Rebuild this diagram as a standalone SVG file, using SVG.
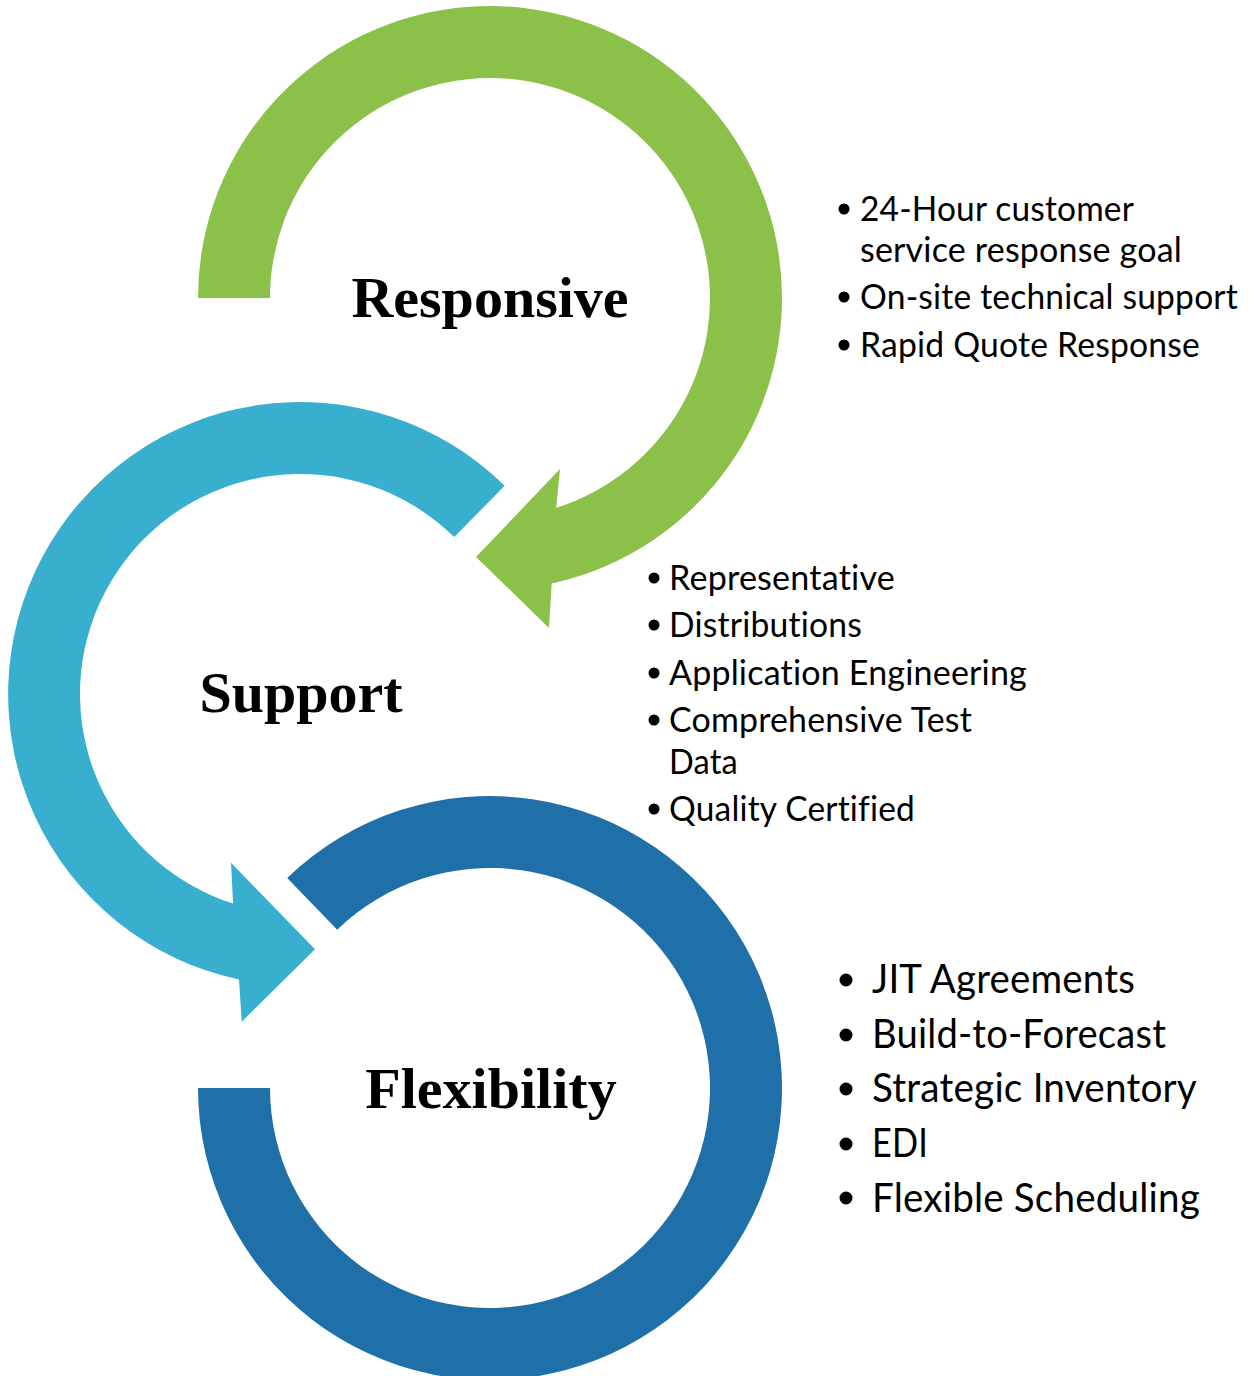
<svg xmlns="http://www.w3.org/2000/svg" width="1254" height="1376" viewBox="0 0 1254 1376">
<style>
.title{font-family:"Liberation Serif","Times New Roman",serif;font-weight:bold;font-size:58px;fill:#000;text-anchor:middle}
.item,.item3{font-family:Lato,"Liberation Sans",sans-serif;fill:#000;font-variant-ligatures:none;font-feature-settings:"liga" 0,"dlig" 0,"calt" 0,"clig" 0;letter-spacing:0.2px}
.item{font-size:35px}
.item3{font-size:41px}
.dot{fill:#000}
</style>
<rect width="1254" height="1376" fill="#fff"/>
<g id="responsive">
<path d="M198,298 A292,292 0 1 1 551.7,583.4 L549,628 L476,557 L560,469 L556.2,507.8 A220,220 0 1 0 270,298 Z" fill="#8BC148"/>
<text class="title" x="490" y="317">Responsive</text>
</g>
<g id="support">
<path d="M504.7,485.7 A292,292 0 1 0 239,979.6 L241.7,1021.7 L315,949.3 L231,862.7 L233.1,903.6 A220,220 0 1 1 454.2,537.1 Z" fill="#38AFCF"/>
<text class="title" x="301" y="712">Support</text>
</g>
<g id="flexibility">
<path d="M198,1088 A292,292 0 1 0 287.2,878 L337.2,929.7 A220,220 0 1 1 270,1088 Z" fill="#1F6FA8"/>
<text class="title" x="491" y="1108">Flexibility</text>
</g>
<g id="responsive-list">
<circle class="dot" cx="844" cy="209" r="5.5"/>
<circle class="dot" cx="844" cy="297" r="5.5"/>
<circle class="dot" cx="844" cy="345" r="5.5"/>
<text class="item" x="860" y="221" textLength="274" lengthAdjust="spacingAndGlyphs">24-Hour customer</text>
<text class="item" x="860" y="262" textLength="322" lengthAdjust="spacingAndGlyphs">service response goal</text>
<text class="item" x="860" y="309" textLength="378" lengthAdjust="spacingAndGlyphs">On-site technical support</text>
<text class="item" x="860" y="357" textLength="340" lengthAdjust="spacingAndGlyphs">Rapid Quote Response</text>
</g>
<g id="support-list">
<circle class="dot" cx="654" cy="578" r="5.5"/>
<circle class="dot" cx="654" cy="625" r="5.5"/>
<circle class="dot" cx="654" cy="673" r="5.5"/>
<circle class="dot" cx="654" cy="720" r="5.5"/>
<circle class="dot" cx="654" cy="809" r="5.5"/>
<text class="item" x="669" y="590" textLength="226" lengthAdjust="spacingAndGlyphs">Representative</text>
<text class="item" x="669" y="637" textLength="193" lengthAdjust="spacingAndGlyphs">Distributions</text>
<text class="item" x="669" y="685" textLength="358" lengthAdjust="spacingAndGlyphs">Application Engineering</text>
<text class="item" x="669" y="732" textLength="303" lengthAdjust="spacingAndGlyphs">Comprehensive Test</text>
<text class="item" x="669" y="774" textLength="69" lengthAdjust="spacingAndGlyphs">Data</text>
<text class="item" x="669" y="821" textLength="246" lengthAdjust="spacingAndGlyphs">Quality Certified</text>
</g>
<g id="flexibility-list">
<circle class="dot" cx="846" cy="980" r="6.5"/>
<circle class="dot" cx="846" cy="1035" r="6.5"/>
<circle class="dot" cx="846" cy="1089" r="6.5"/>
<circle class="dot" cx="846" cy="1144" r="6.5"/>
<circle class="dot" cx="846" cy="1198" r="6.5"/>
<text class="item3" x="872" y="993" textLength="263" lengthAdjust="spacingAndGlyphs">JIT Agreements</text>
<text class="item3" x="872" y="1048" textLength="294" lengthAdjust="spacingAndGlyphs">Build-to-Forecast</text>
<text class="item3" x="872" y="1102" textLength="325" lengthAdjust="spacingAndGlyphs">Strategic Inventory</text>
<text class="item3" x="872" y="1157" textLength="56" lengthAdjust="spacingAndGlyphs">EDI</text>
<text class="item3" x="872" y="1212" textLength="328" lengthAdjust="spacingAndGlyphs">Flexible Scheduling</text>
</g>
<g id="connectors"></g>
</svg>
